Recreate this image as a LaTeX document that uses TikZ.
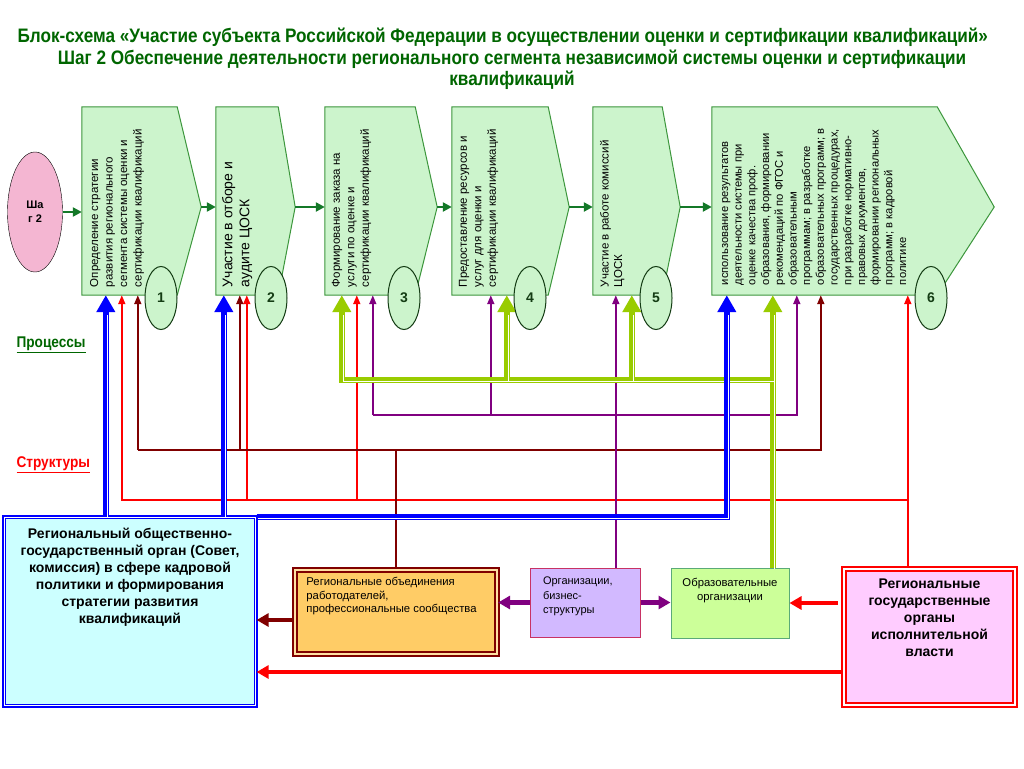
\documentclass[tikz,border=0pt]{standalone}
\usepackage{fontspec}
\setmainfont{Liberation Sans}
\newfontfamily\narrowfont[FakeStretch=0.88]{Liberation Sans}
\usetikzlibrary{positioning}
\usetikzlibrary{calc}
\usetikzlibrary{shapes.geometric}
\usetikzlibrary{arrows.meta}
\definecolor{headgreen}{RGB}{0,102,0}
\definecolor{flowgreen}{RGB}{20,120,40}
\definecolor{procfill}{RGB}{204,244,204}
\definecolor{procline}{RGB}{60,150,60}
\definecolor{numline}{RGB}{20,60,20}
\definecolor{stepink}{RGB}{244,182,210}
\definecolor{ygreen}{RGB}{153,204,0}
\definecolor{lilac}{RGB}{128,0,128}
\definecolor{maroon}{RGB}{128,0,0}
\definecolor{govfill}{RGB}{204,255,255}
\definecolor{empfill}{RGB}{255,204,102}
\definecolor{bizfill}{RGB}{210,185,255}
\definecolor{bizline}{RGB}{200,50,100}
\definecolor{edufill}{RGB}{204,255,153}
\definecolor{eduline}{RGB}{90,170,120}
\definecolor{isplfill}{RGB}{255,204,255}
\tikzset{%
  flow/.style = {-{Triangle[width=9pt,length=9pt]}, line width=2.5pt, draw=flowgreen},
  thinarrow/.style = {-{Triangle[width=7pt,length=9pt]}, line width=1.8pt},
  fatarrow/.style = {-{Triangle[width=18pt,length=17pt]}, line width=6pt,
        postaction={draw=white, line width=1pt, -, shorten >=18pt,
        transform canvas={shift={(1.5pt,-1.5pt)}}}},
  boldarrow/.style = {-{Triangle[width=13pt,length=12pt]}, line width=4.5pt},
  proc/.style = {draw=procline, fill=procfill, line width=1pt},
  body/.style = {rectangle, inner sep=0pt, minimum height=188pt},
  proctext/.style = {rotate=90, anchor=north west, align=left, inner sep=0pt},
  num/.style = {ellipse, draw=numline, fill=procfill, line width=1pt, inner sep=0pt,
        minimum width=32pt, minimum height=63pt, text=numline,
        font=\bfseries\fontsize{14}{14}\selectfont},
  org/.style = {rectangle, inner sep=0pt}
}
\begin{document}
\begin{tikzpicture}[x=1pt, y=-1pt]
\path[use as bounding box, fill=white] (0,0) rectangle (1024,768);

% title
\node[anchor=west, text=headgreen, font=\narrowfont\bfseries\fontsize{19.5}{21}\selectfont]
  (title) at (14,37) {Блок-схема «Участие субъекта Российской Федерации в осуществлении оценки и сертификации квалификаций»};
\node[align=center, text=headgreen, font=\narrowfont\bfseries\fontsize{19.5}{21}\selectfont]
  (subtitle) at (512,70) {Шаг 2 Обеспечение деятельности регионального сегмента независимой системы оценки и сертификации\\квалификаций};

% step
\node[ellipse, draw=black, fill=stepink, minimum width=55pt, minimum height=120pt,
  inner sep=0pt, align=center, font=\bfseries\fontsize{11}{14}\selectfont] (st) at (35,212) {Ша\\г 2};

% processes
\node[body, minimum width=95pt] (p1) at (129.5,201) {};
\node[body, minimum width=62pt] (p2) at (247,201) {};
\node[body, minimum width=90pt] (p3) at (370,201) {};
\node[body, minimum width=96pt] (p4) at (500,201) {};
\node[body, minimum width=69pt] (p5) at (627.5,201) {};
\node[body, minimum width=225pt] (p6) at (824.5,201) {};
\foreach \n/\t in {1/24,2/17,3/22,4/21,5/18,6/57}{
  \coordinate (tip\n) at ($(p\n.east)+(\t,6)$);
  \draw[proc] (p\n.north west) -- (p\n.north east) -- (tip\n)
    -- (p\n.south east) -- (p\n.south west) -- cycle;
}
\node[proctext, font=\fontsize{11.5}{14.5}\selectfont] (t1) at ([xshift=8pt,yshift=8pt]p1.south west)
  {Определение стратегии\\развития регионального\\сегмента системы оценки и\\сертификации квалификаций};
\node[proctext, font=\fontsize{14}{17}\selectfont] (t2) at ([xshift=6pt,yshift=8pt]p2.south west)
  {Участие в отборе и\\аудите ЦОСК};
\node[proctext, font=\fontsize{11.5}{14.5}\selectfont] (t3) at ([xshift=7pt,yshift=8pt]p3.south west)
  {Формирование заказа на\\услуги по оценке и\\сертификации квалификаций};
\node[proctext, font=\fontsize{11.5}{14.5}\selectfont] (t4) at ([xshift=7pt,yshift=8pt]p4.south west)
  {Предоставление ресурсов и\\услуг для оценки и\\сертификации квалификаций};
\node[proctext, font=\fontsize{11.5}{13.5}\selectfont] (t5) at ([xshift=7pt,yshift=8pt]p5.south west)
  {Участие в работе комиссий\\ЦОСК};
\node[proctext, font=\fontsize{11.2}{13.7}\selectfont] (t6) at ([xshift=10pt,yshift=10pt]p6.south west)
  {использование результатов\\деятельности системы при\\оценке качества проф.\\образования, формировании\\рекомендаций по ФГОС и\\образовательным\\программам; в разработке\\образовательных программ; в\\государственных процедурах,\\при разработке нормативно-\\правовых документов,\\формировании региональных\\программ; в кадровой\\политике};

\draw[flow] (st.east) -- (st.east -| p1.west);
\foreach \a/\b in {1/2,2/3,3/4,4/5,5/6}
  \draw[flow] (tip\a) -- (tip\a -| p\b.west);

% side labels
\node[anchor=west, text=headgreen, font=\narrowfont\bfseries\fontsize{15.5}{17}\selectfont]
  (proclabel) at (13,345) {\underline{Процессы}};
\node[anchor=west, text=red, font=\narrowfont\bfseries\fontsize{15.5}{17}\selectfont]
  (structlabel) at (13,465) {\underline{Структуры}};

% structures
\node[org, minimum width=251.6pt, minimum height=188.6pt, fill=govfill, draw=blue,
  double=white, double distance=1.2pt, line width=1.6pt] (gos) at (130,611.5) {};
\node[below=8pt of gos.north, align=center, font=\bfseries\fontsize{14}{17}\selectfont] (gostext)
  {Региональный общественно-\\государственный орган (Совет,\\комиссия) в сфере кадровой\\политики и формирования\\стратегии развития\\квалификаций};
\node[org, minimum width=202pt, minimum height=84pt, fill=empfill, draw=maroon,
  double=empfill!60!white, double distance=1.2pt, line width=2.2pt] (emp) at (396,612) {};
\node[below right=5pt and 9pt of emp.north west, align=left, font=\fontsize{11.3}{13.5}\selectfont] (emptext)
  {Региональные объединения\\работодателей,\\профессиональные сообщества};
\node[org, minimum width=110pt, minimum height=69pt, fill=bizfill, draw=bizline, line width=1pt]
  (biz) at (585,602.5) {};
\node[below right=6pt and 10pt of biz.north west, align=left, font=\fontsize{11}{14.5}\selectfont] (biztext)
  {Организации,\\бизнес-\\структуры};
\node[org, minimum width=118pt, minimum height=70pt, fill=edufill, draw=eduline, line width=1pt]
  (edu) at (730,603) {};
\node[below=7pt of edu.north, align=center, font=\fontsize{11.3}{14}\selectfont] (edutext)
  {Образовательные\\организации};
\node[org, minimum width=171pt, minimum height=136pt, fill=isplfill, draw=red,
  double=white, double distance=1.2pt, line width=2.2pt] (ispl) at (929.5,637) {};
\node[below=7pt of ispl.north, align=center, font=\bfseries\fontsize{14}{17}\selectfont] (ispltext)
  {Региональные\\государственные\\органы\\исполнительной\\власти};

% ports
\coordinate (c1a) at ([xshift=24pt]p1.south west);
\coordinate (c1b) at ([xshift=40pt]p1.south west);
\coordinate (c1c) at ([xshift=56pt]p1.south west);
\coordinate (c2a) at ([xshift=8pt]p2.south west);
\coordinate (c2b) at ([xshift=24pt]p2.south west);
\coordinate (c2c) at ([xshift=31pt]p2.south west);
\coordinate (c3a) at ([xshift=17pt]p3.south west);
\coordinate (c3b) at ([xshift=32pt]p3.south west);
\coordinate (c3c) at ([xshift=48pt]p3.south west);
\coordinate (c4a) at ([xshift=39pt]p4.south west);
\coordinate (c4b) at ([xshift=55pt]p4.south west);
\coordinate (c5a) at ([xshift=23pt]p5.south west);
\coordinate (c5b) at ([xshift=39pt]p5.south west);
\coordinate (c6a) at ([xshift=15pt]p6.south west);
\coordinate (c6b) at ([xshift=61pt]p6.south west);
\coordinate (c6c) at ([xshift=85pt]p6.south west);
\coordinate (c6d) at ([xshift=109pt]p6.south west);
\coordinate (c6e) at ([xshift=196pt]p6.south west);
\coordinate (ygbus) at (0,380);
\coordinate (pubus) at (0,415);
\coordinate (mabus) at (0,450);
\coordinate (rebus) at (0,500);
\coordinate (blbus) at (0,517);

% red
\draw[thinarrow, red] (ispl.north -| c6e) -- (c6e);
\draw[thinarrow, red] (rebus -| c6e) -- (rebus -| c1b) -- (c1b);
\draw[thinarrow, red] (rebus -| c2c) -- (c2c);
\draw[thinarrow, red] (rebus -| c3b) -- (c3b);
% maroon
\draw[maroon, line width=1.8pt] (emp.north) -- (emp.north |- mabus);
\draw[thinarrow, maroon] (mabus -| c1c) -- (mabus -| c6d) -- (c6d);
\draw[thinarrow, maroon] (mabus -| c1c) -- (c1c);
\draw[thinarrow, maroon] (mabus -| c2b) -- (c2b);
% purple
\draw[thinarrow, lilac] (biz.north -| c5a) -- (c5a);
\draw[thinarrow, lilac] (pubus -| c3c) -- (pubus -| c6c) -- (c6c);
\draw[thinarrow, lilac] (pubus -| c3c) -- (c3c);
\draw[thinarrow, lilac] (pubus -| c4a) -- (c4a);
% yellow-green
\draw[fatarrow, ygreen] (edu.north -| c6b) -- (c6b);
\draw[fatarrow, ygreen] (ygbus -| c6b) -- (ygbus -| c3a) -- (c3a);
\draw[fatarrow, ygreen] (ygbus -| c4b) -- (c4b);
\draw[fatarrow, ygreen] (ygbus -| c5b) -- (c5b);
% blue
\draw[fatarrow, blue] (gos.north -| c1a) -- (c1a);
\draw[fatarrow, blue] (gos.north -| c2a) -- (c2a);
\draw[fatarrow, blue] (blbus -| gos.east) -- (blbus -| c6a) -- (c6a);

% bottom links
\coordinate (mlow) at ([yshift=-8pt]emp.west);
\coordinate (rlow) at ([yshift=-35pt]ispl.west);
\draw[boldarrow, maroon] (mlow) -- (mlow -| gos.east);
\draw[boldarrow, lilac] (biz.west) -- (biz.west -| emp.east);
\draw[boldarrow, lilac] (biz.east) -- (biz.east -| edu.west);
\draw[boldarrow, red] ([xshift=-5pt]ispl.west |- edu.east) -- (edu.east);
\draw[boldarrow, red] (rlow) -- (rlow -| gos.east);

% numbers
\node[num] (n1) at (161,298) {1};
\node[num] (n2) at (271,298) {2};
\node[num] (n3) at (404,298) {3};
\node[num] (n4) at (530,298) {4};
\node[num] (n5) at (656,298) {5};
\node[num] (n6) at (931,298) {6};
\end{tikzpicture}
\end{document}
